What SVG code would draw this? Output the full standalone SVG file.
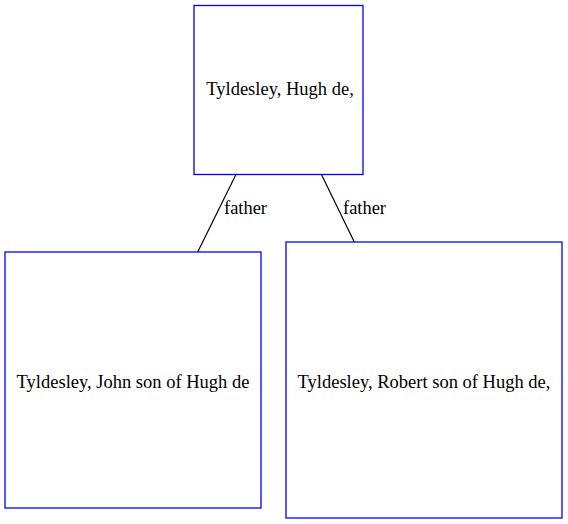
<svg xmlns="http://www.w3.org/2000/svg" width="568" height="524" viewBox="0 0 568 524">
<style>
.node rect{fill:#fff;stroke:#0000ff;stroke-width:1.3}
text{font-family:"Liberation Serif","Times New Roman",serif;font-size:18.5px;fill:#000}
.c line{stroke:#000;stroke-width:1.2}
</style>
<rect width="568" height="524" fill="#fff"/>
<g class="c" id="connectors">
<line x1="235.7" y1="175" x2="197.7" y2="252"/>
<line x1="321.7" y1="175" x2="354.3" y2="242"/>
<text x="224" y="214" textLength="43" lengthAdjust="spacingAndGlyphs">father</text>
<text x="343" y="214" textLength="43" lengthAdjust="spacingAndGlyphs">father</text>
</g>
<g class="node" id="hugh">
<rect x="194" y="5.5" width="169" height="169"/>
<text x="280" y="95" text-anchor="middle">Tyldesley, Hugh de,</text>
</g>
<g class="node" id="john">
<rect x="5" y="252" width="256" height="256"/>
<text x="133" y="388" text-anchor="middle">Tyldesley, John son of Hugh de</text>
</g>
<g class="node" id="robert">
<rect x="286" y="242" width="276" height="276"/>
<text x="424" y="388" text-anchor="middle">Tyldesley, Robert son of Hugh de,</text>
</g>
</svg>
